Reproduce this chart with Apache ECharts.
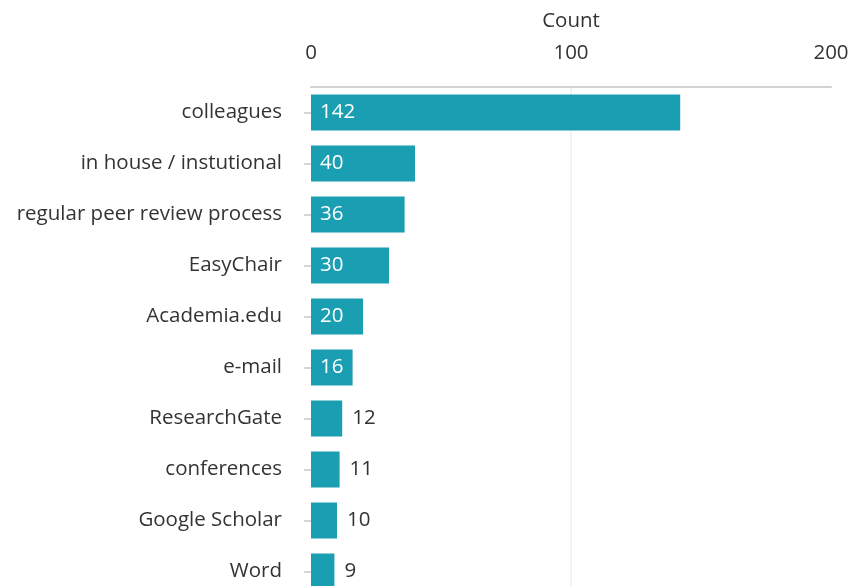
<!DOCTYPE html>
<html>
<head>
<meta charset="utf-8">
<script src="https://cdn.jsdelivr.net/npm/echarts@6/dist/echarts.min.js"></script>
<style>
  html, body { margin: 0; padding: 0; background: #fff; }
  #chart { width: 865px; height: 586px; }
</style>
</head>
<body>
<div id="chart"></div>
<script>
const categories = [
  'colleagues',
  'in house / instutional',
  'regular peer review process',
  'EasyChair',
  'Academia.edu',
  'e-mail',
  'ResearchGate',
  'conferences',
  'Google Scholar',
  'Word'
]
const counts = [142, 40, 36, 30, 20, 16, 12, 11, 10, 9]
const xTicks = [0, 100, 200]

const barColor = '#1a9eb2'
const textColor = '#333'
const fontSize = 20.5

// big bars get the label inside, small ones outside
const seriesData = counts.map(function (v) {
  const inside = v >= 15
  return {
    value: v,
    label: inside
      ? { position: 'insideLeft', color: '#fff', distance: 9 }
      : { position: 'right', color: textColor, distance: 10 }
  }
})

const myChart = echarts.init(document.getElementById('chart'), null, { renderer: 'canvas' })

myChart.setOption({
  animation: false,
  textStyle: { fontFamily: 'Open Sans' },
  grid: {
    left: 311,
    width: 520,
    top: 87,
    height: 510,
    outerBoundsMode: 'none',
    containLabel: false
  },
  xAxis: {
    type: 'value',
    position: 'top',
    min: xTicks[0],
    max: xTicks[xTicks.length - 1],
    interval: 100,
    name: 'Count',
    nameLocation: 'middle',
    nameGap: 55,
    nameTextStyle: { fontSize: fontSize, color: textColor },
    axisLine: { show: true, lineStyle: { color: '#d2d2d2', width: 2 } },
    axisTick: { show: false },
    axisLabel: { fontSize: fontSize, color: textColor, margin: 23 },
    splitLine: {
      show: true,
      lineStyle: { color: ['transparent', '#f3f3f3', 'transparent'], width: 2 }
    }
  },
  yAxis: {
    type: 'category',
    data: categories,
    inverse: true,
    offset: 9,
    axisLine: { show: false },
    axisTick: {
      show: true,
      alignWithLabel: true,
      length: 7,
      lineStyle: { color: '#d6d6d6', width: 2 }
    },
    axisLabel: { fontSize: fontSize, color: textColor, margin: 20 },
    splitLine: { show: false }
  },
  series: [
    {
      type: 'bar',
      data: seriesData,
      barWidth: 36,
      itemStyle: { color: barColor },
      label: { show: true, fontSize: fontSize, fontFamily: 'Open Sans' }
    }
  ]
})
</script>
</body>
</html>
